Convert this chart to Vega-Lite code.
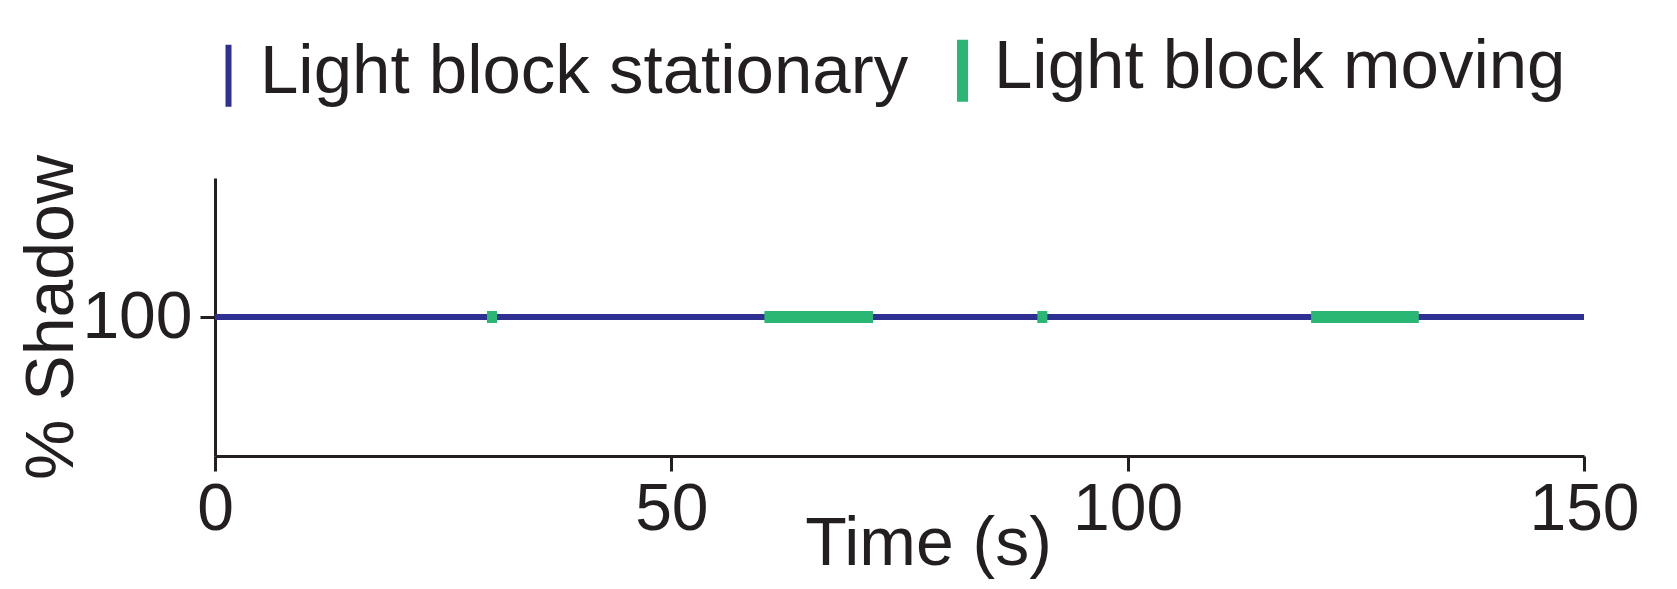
{
  "$schema": "https://vega.github.io/schema/vega-lite/v6.json",
  "width": 1369,
  "height": 278,
  "autosize": "none",
  "padding": {"left": 215, "top": 178, "right": 93, "bottom": 133},
  "background": "white",
  "config": {
    "font": "Liberation Sans",
    "view": {"stroke": null},
    "axis": {
      "domainColor": "#231f20",
      "domainWidth": 3,
      "tickColor": "#231f20",
      "tickWidth": 3,
      "tickSize": 15,
      "grid": false,
      "labelColor": "#231f20",
      "labelFontSize": 66,
      "labelFlush": false,
      "titleColor": "#231f20",
      "titleFontSize": 68,
      "titleFontWeight": "normal"
    }
  },
  "data": {
    "values": [
      {"t": 0, "pct": 100, "state": "Light block stationary", "seg": 0},
      {"t": 150, "pct": 100, "state": "Light block stationary", "seg": 0},
      {"t": 29.8, "pct": 100, "state": "Light block moving", "seg": 1},
      {"t": 30.9, "pct": 100, "state": "Light block moving", "seg": 1},
      {"t": 60.2, "pct": 100, "state": "Light block moving", "seg": 2},
      {"t": 72.1, "pct": 100, "state": "Light block moving", "seg": 2},
      {"t": 90.1, "pct": 100, "state": "Light block moving", "seg": 3},
      {"t": 91.2, "pct": 100, "state": "Light block moving", "seg": 3},
      {"t": 120.1, "pct": 100, "state": "Light block moving", "seg": 4},
      {"t": 131.9, "pct": 100, "state": "Light block moving", "seg": 4}
    ]
  },
  "encoding": {
    "x": {
      "field": "t", "type": "quantitative",
      "scale": {"domain": [0, 150], "nice": false},
      "axis": {"values": [0, 50, 100, 150], "labelPadding": 6, "title": "Time (s)",
               "titleX": 713, "titleY": 108, "titleAlign": "center", "titleBaseline": "alphabetic"}
    },
    "y": {
      "field": "pct", "type": "quantitative",
      "scale": {"domain": [50, 150], "nice": false, "zero": false},
      "axis": {"values": [100], "labelPadding": 8, "title": "% Shadow",
               "titleX": -143, "titleY": 139, "titleAngle": -90, "titleAlign": "center", "titleBaseline": "alphabetic"}
    },
    "color": {
      "field": "state", "type": "nominal",
      "scale": {"domain": ["Light block stationary", "Light block moving"], "range": ["#2e3192", "#2ab673"]},
      "legend": {
        "title": null,
        "orient": "none",
        "direction": "horizontal",
        "legendX": -21,
        "legendY": -142,
        "symbolType": "M0,-1V1",
        "symbolSize": 3844,
        "labelFontSize": 69,
        "labelColor": "#231f20",
        "labelOffset": -3,
        "columnPadding": 19,
        "labelLimit": 1000,
        "encode": {
          "symbols": {"update": {"strokeWidth": {"signal": "datum.value === 'Light block moving' ? 11 : 6"}}},
          "labels": {"update": {"dy": {"value": -4}}}
        }
      }
    },
    "detail": {"field": "seg"}
  },
  "layer": [
    {
      "transform": [{"filter": "datum.state === 'Light block stationary'"}],
      "mark": {"type": "line", "strokeWidth": 6, "strokeCap": "butt"}
    },
    {
      "transform": [{"filter": "datum.state === 'Light block moving'"}],
      "mark": {"type": "line", "strokeWidth": 12, "strokeCap": "butt"}
    }
  ]
}
